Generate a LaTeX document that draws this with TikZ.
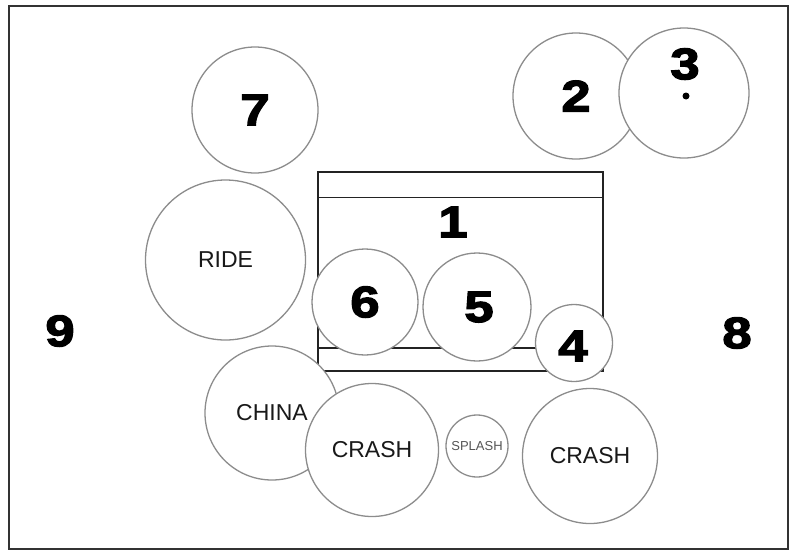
\documentclass[tikz,border=0pt]{standalone}
\usepackage{fontspec}
\setmainfont{Liberation Sans}
\newfontfamily\numfont{Liberation Sans}[BoldFeatures={FakeBold=3,FakeStretch=1.2}]
\definecolor{rimcolor}{RGB}{140, 140, 140}
\definecolor{kitcolor}{RGB}{35, 35, 35}
\definecolor{framecolor}{RGB}{50, 50, 50}
\definecolor{labelcolor}{RGB}{25, 25, 25}
\definecolor{smalllabelcolor}{RGB}{85, 85, 85}
\tikzset{
padtext/.style={
  align=center,
  text=labelcolor,
  font=\fontsize{23}{23}\selectfont
},
drum/.style={
  circle,
  draw=rimcolor,
  line width=1.3pt,
  fill=white,
  inner sep=0pt
},
numlabel/.style={
  text=black,
  font=\numfont\bfseries\fontsize{44}{44}\selectfont
},
outerframe/.style={
  draw=framecolor,
  line width=2pt
},
kitline/.style={
  draw=kitcolor,
  line width=1.5pt
}
}
\begin{document}
\begin{tikzpicture}[x=1pt, y=-1pt]
  \useasboundingbox (0,0) rectangle (791,552);
  \draw[outerframe] (9,6) rectangle (788,549);

  % Rack and floor frame
  \node[kitline, draw, minimum width=285pt, minimum height=199pt, inner sep=0pt] (kit) at (460.5,271.5) {};
  \draw[kitline] ([yshift=-26pt]kit.north west) -- ([yshift=-26pt]kit.north east);
  \draw[kitline] ([yshift=24pt]kit.south west) -- ([yshift=24pt]kit.south east);
  \node[numlabel] (n1) at (453,222) {1};

  % Top drums
  \node[drum, minimum size=126pt] (d7) at (255,110) {};
  \node[numlabel] at (d7) {7};
  \node[drum, minimum size=126pt] (d2) at (576,96) {};
  \node[numlabel] at (d2) {2};
  \node[drum, minimum size=130pt] (d3) at (684,93) {};
  \node[numlabel] at (685,64) {3};
  \fill[black] (686,96) circle (3.5pt);

  % Ride
  \node[drum, minimum size=160pt, padtext] (ride) at (225.5,260) {RIDE};

  % Toms and snare
  \node[drum, minimum size=106pt] (d6) at (365,302) {};
  \node[numlabel] at (d6) {6};
  \node[drum, minimum size=108pt] (d5) at (477,307) {};
  \node[numlabel] at (479,307) {5};
  \node[drum, minimum size=77pt] (d4) at (574,343) {};
  \node[numlabel] at (573,346) {4};

  % Side numbers
  \node[numlabel] (n9) at (60,331) {9};
  \node[numlabel] (n8) at (737,333) {8};

  % Cymbals in front
  \node[drum, minimum size=134pt, padtext] (china) at (272,413) {CHINA};
  \node[drum, minimum size=133pt, padtext] (crashl) at (372,450) {CRASH};
  \node[drum, minimum size=62pt, padtext, font=\fontsize{13}{13}\selectfont, text=smalllabelcolor] (splash) at (477,446) {SPLASH};
  \node[drum, minimum size=135pt, padtext] (crashr) at (590,456) {CRASH};
\end{tikzpicture}
\end{document}
